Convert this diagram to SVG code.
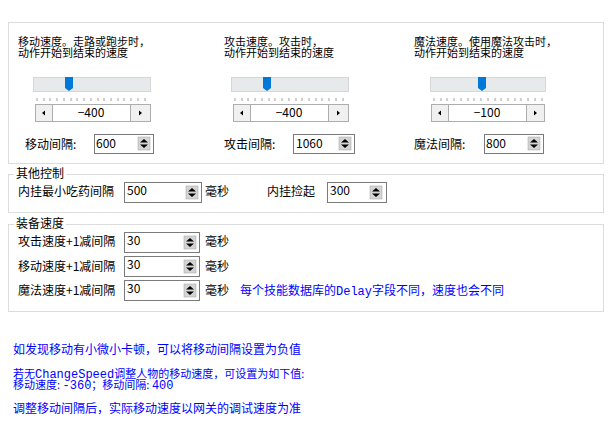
<svg xmlns="http://www.w3.org/2000/svg" width="616" height="435" viewBox="0 0 616 435">
<defs>
<style>
text{font-family:"Noto Sans CJK SC","Liberation Sans",sans-serif;font-size:12px;fill:#000}
.t2{font-size:11px}
.blue{fill:#0000ff}
.mono{font-family:"Liberation Mono","Noto Sans CJK SC",monospace;font-size:12px}
.panel{fill:#fff;stroke:#dcdcdc;stroke-width:1}
.track{fill:#e7eaea;stroke:#d6d6d6}
.btn{fill:#f0f0f0;stroke:#adadad}
.field{fill:#fff;stroke:#adadad}
.inp{fill:#fff;stroke:#7a7a7a}
.tick{stroke:#a0a0a0;stroke-width:1}
.sp{fill:#d4d4d4;stroke:#a0a0a0;stroke-width:0.5}
</style>
<g id="tk">
<path class="tick" d="M37 98v3M44 98v3M50 98v3M57 98v3M64 98v3M71 98v3M77 98v3M84 98v3M91 98v3M98 98v3M104 98v3M111 98v3M118 98v3M124 98v3M131 98v3M138 98v3M145 98v3"/>
</g>
<g id="spin">
<rect class="sp" x="0" y="0" width="12" height="13"/>
<path d="M2 5.5h8L6 2zM2 7.5h8L6 11z" fill="#000"/>
</g>
</defs>
<rect width="616" height="435" fill="#fff"/>
<rect class="panel" x="8.5" y="22.5" width="595" height="141"/>
<rect class="panel" x="8.5" y="174.5" width="595" height="38"/>
<rect class="panel" x="8.5" y="224.5" width="595" height="87"/>

<g id="move">
<text class="t2" x="18" y="46">移动速度。走路或跑步时，</text>
<text class="t2" x="18" y="57">动作开始到结束的速度</text>
<rect class="track" x="33.5" y="77.5" width="117" height="14"/>
<path d="M65 77h8v11l-4 3l-4-3z" fill="#0078d7"/>
<use href="#tk"/>
<rect class="field" x="35.5" y="104.5" width="115" height="17"/>
<rect class="btn" x="35.5" y="104.5" width="17" height="17"/>
<rect class="btn" x="130.5" y="104.5" width="20" height="17"/>
<path d="M42 113l3-2.5v5z M139 110.5l3 2.5l-3 2.5z" fill="#000"/>
<text x="91" y="117" text-anchor="middle">−400</text>
<text x="25" y="149">移动间隔:</text>
<rect class="inp" x="94.5" y="134.5" width="59" height="19"/>
<text x="96" y="148">600</text>
<use href="#spin" x="138" y="137"/>
</g>

<g id="attack">
<text class="t2" x="224" y="46">攻击速度。攻击时，</text>
<text class="t2" x="224" y="57">动作开始到结束的速度</text>
<rect class="track" x="231.5" y="77.5" width="117" height="14"/>
<path d="M263 77h8v11l-4 3l-4-3z" fill="#0078d7"/>
<use href="#tk" x="198"/>
<rect class="field" x="233.5" y="104.5" width="115" height="17"/>
<rect class="btn" x="233.5" y="104.5" width="17" height="17"/>
<rect class="btn" x="328.5" y="104.5" width="20" height="17"/>
<path d="M240 113l3-2.5v5z M337 110.5l3 2.5l-3 2.5z" fill="#000"/>
<text x="289" y="117" text-anchor="middle">−400</text>
<text x="224" y="149">攻击间隔:</text>
<rect class="inp" x="293.5" y="134.5" width="61" height="19"/>
<text x="296" y="148">1060</text>
<use href="#spin" x="339" y="137"/>
</g>

<g id="magic">
<text class="t2" x="414" y="46">魔法速度。使用魔法攻击时，</text>
<text class="t2" x="414" y="57">动作开始到结束的速度</text>
<rect class="track" x="430.5" y="77.5" width="115" height="14"/>
<path d="M478 77h8v11l-4 3l-4-3z" fill="#0078d7"/>
<use href="#tk" x="397"/>
<rect class="field" x="431.5" y="104.5" width="113" height="17"/>
<rect class="btn" x="431.5" y="104.5" width="17" height="17"/>
<rect class="btn" x="526.5" y="104.5" width="18" height="17"/>
<path d="M438 113l3-2.5v5z M534 110.5l3 2.5l-3 2.5z" fill="#000"/>
<text x="487" y="117" text-anchor="middle">−100</text>
<text x="414" y="149">魔法间隔:</text>
<rect class="inp" x="484.5" y="134.5" width="59" height="19"/>
<text x="486" y="148">800</text>
<use href="#spin" x="528" y="137"/>
</g>

<g id="other">
<rect x="14" y="168" width="52" height="12" fill="#fff"/>
<text x="16" y="178">其他控制</text>
<text x="18" y="196">内挂最小吃药间隔</text>
<rect class="inp" x="124.5" y="182.5" width="77" height="20"/>
<text x="127" y="195">500</text>
<use href="#spin" x="186" y="186"/>
<text x="205" y="196">毫秒</text>
<text x="267" y="196">内挂捡起</text>
<rect class="inp" x="327.5" y="182.5" width="59" height="20"/>
<text x="330" y="195">300</text>
<use href="#spin" x="370" y="186"/>
</g>

<g id="equip">
<rect x="14" y="218" width="52" height="12" fill="#fff"/>
<text x="16" y="228">装备速度</text>
<text x="18" y="246">攻击速度+1减间隔</text>
<rect class="inp" x="124.5" y="232.5" width="75" height="20"/>
<text x="127" y="245">30</text>
<use href="#spin" x="184" y="236"/>
<text x="205" y="246">毫秒</text>
<text x="18" y="271">移动速度+1减间隔</text>
<rect class="inp" x="124.5" y="256.5" width="75" height="20"/>
<text x="127" y="269">30</text>
<use href="#spin" x="184" y="260"/>
<text x="205" y="271">毫秒</text>
<text x="18" y="295">魔法速度+1减间隔</text>
<rect class="inp" x="124.5" y="280.5" width="75" height="20"/>
<text x="127" y="293">30</text>
<use href="#spin" x="184" y="284"/>
<text x="205" y="295">毫秒</text>
<text class="blue" x="240" y="295">每个技能数据库的<tspan class="mono" font-size="11">Delay</tspan>字段不同，速度也会不同</text>
</g>

<g id="notes">
<text class="blue" x="13" y="354">如发现移动有小微小卡顿，可以将移动间隔设置为负值</text>
<text class="blue t2" x="13" y="378">若无<tspan class="mono" font-size="11">ChangeSpeed</tspan>调整人物的移动速度，可设置为如下值:</text>
<text class="blue t2" x="13" y="389">移动速度: <tspan class="mono" font-size="11">-360</tspan>；移动间隔: <tspan class="mono" font-size="11">400</tspan></text>
<text class="blue" x="13" y="413">调整移动间隔后，实际移动速度以网关的调试速度为准</text>
</g>
</svg>
